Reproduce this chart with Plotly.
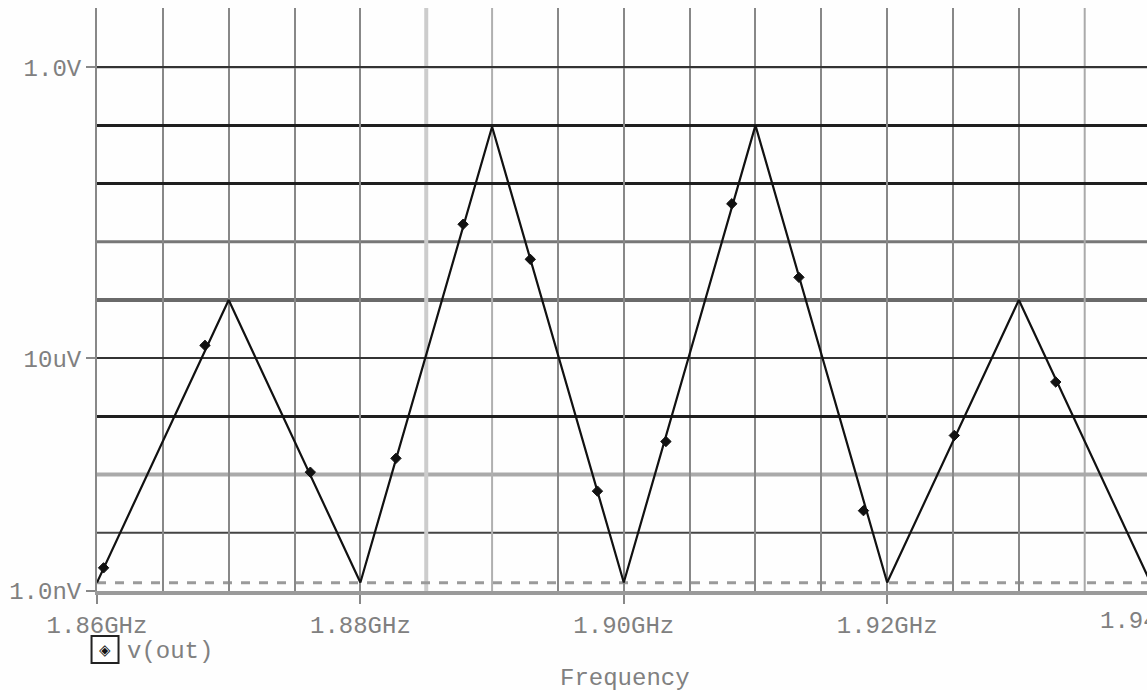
import plotly.graph_objects as go

# ---- data ----
freq_ghz = [1.86, 1.87, 1.88, 1.89, 1.90, 1.91, 1.92, 1.93, 1.94]
v_out = [1.4e-9, 1.0e-4, 1.4e-9, 0.095, 1.4e-9, 0.10, 1.4e-9, 1.0e-4, 1.4e-9]

marker_freq = [1.8605, 1.8682, 1.8762, 1.8827, 1.8878, 1.8929, 1.8980,
               1.9032, 1.9082, 1.9133, 1.9182, 1.9251, 1.9328]
marker_v = [2.5e-9, 1.66e-5, 1.1e-7, 1.9e-7, 2.0e-3, 5.0e-4, 5.2e-8,
            3.7e-7, 4.5e-3, 2.45e-4, 2.4e-8, 4.7e-7, 3.9e-6]

x_tick_vals = [1.86, 1.88, 1.90, 1.92]
x_tick_text = ["1.86GHz", "1.88GHz", "1.90GHz", "1.92GHz"]
x_minor_vals = [1.865, 1.87, 1.875, 1.885, 1.89, 1.895, 1.905, 1.91, 1.915,
                1.925, 1.93, 1.935]
y_tick_vals = [1e-9, 1e-5, 1.0]
y_tick_text = ["1.0nV", "10uV", "1.0V"]
y_minor_vals = [1e-8, 1e-7, 1e-6, 1e-4, 1e-3, 1e-2, 1e-1, 10.0]
clip_level = 1.38e-9
series_name = "v(out)"
x_title = "Frequency"

FONT = "Liberation Mono"
TXT = "#808080"
FS = 24

# gridline shade variations seen in the reference (style)
h_over = {1.0: ("#444444", 2), 1e-3: ("#777777", 3), 1e-4: ("#6a6a6a", 4),
          1e-7: ("#aaaaaa", 4), 1e-8: ("#444444", 2)}
v_over = {1.885: ("#cccccc", 4), 1.89: ("#b0b0b0", 2), 1.935: ("#aaaaaa", 2)}

fig = go.Figure()
fig.add_trace(go.Scatter(x=freq_ghz, y=v_out, mode="lines",
                         line=dict(color="#111111", width=2.2),
                         showlegend=False, hoverinfo="skip"))
fig.add_trace(go.Scatter(x=marker_freq, y=marker_v, mode="markers",
                         marker=dict(symbol="diamond", size=8, color="#111111",
                                     line=dict(color="#111111", width=1)),
                         showlegend=False))

shapes = []
for val, (col, w) in h_over.items():
    shapes.append(dict(type="line", xref="paper", x0=0, x1=1, yref="y", y0=val, y1=val,
                       line=dict(color=col, width=w), layer="below"))
for val, (col, w) in v_over.items():
    shapes.append(dict(type="line", yref="paper", y0=0, y1=1, xref="x", x0=val, x1=val,
                       line=dict(color=col, width=w), layer="below"))
# dashed baseline
shapes.append(dict(type="line", xref="paper", x0=0, x1=1, yref="y",
                   y0=clip_level, y1=clip_level,
                   line=dict(color="#9a9a9a", width=3, dash="dash"), layer="below"))
# legend box
shapes.append(dict(type="rect", xref="paper", yref="paper",
                   x0=-0.0052, x1=0.0205, y0=-0.1235, y1=-0.0772,
                   line=dict(color="#222222", width=2), fillcolor="white"))

annotations = [
    dict(text="◈", xref="paper", yref="paper", x=0.0077, y=-0.1005,
         showarrow=False, font=dict(family="DejaVu Sans", size=15, color="#111111"),
         xanchor="center", yanchor="middle"),
    dict(text=series_name, xref="paper", yref="paper", x=0.027, y=-0.103,
         showarrow=False, font=dict(family=FONT, size=FS, color=TXT),
         xanchor="left", yanchor="middle"),
    dict(text=x_title, xref="paper", yref="paper", x=0.503, y=-0.1500,
         showarrow=False, font=dict(family=FONT, size=FS, color=TXT),
         xanchor="center", yanchor="middle"),
    dict(text="1.94GHz", xref="paper", yref="paper", x=1.0033, y=-0.0520,
         showarrow=False, font=dict(family=FONT, size=FS, color=TXT),
         xanchor="center", yanchor="middle"),
]

fig.update_layout(
    width=1147, height=690,
    margin=dict(l=97, r=0, t=8, b=99),
    paper_bgcolor="#fefefe", plot_bgcolor="#fefefe",
    font=dict(family=FONT, size=FS, color=TXT),
    shapes=shapes, annotations=annotations,
    xaxis=dict(range=[1.86, 1.93973], tickmode="array", tickvals=x_tick_vals,
               ticktext=x_tick_text, ticks="outside", ticklen=9, tickwidth=2,
               tickcolor="#888888", showgrid=True, gridcolor="#888888", gridwidth=2,
               showline=True, linecolor="#9a9a9a", linewidth=4,
               zeroline=False, ticklabelstandoff=0,
               minor=dict(tickmode="array",
                          tickvals=[v for v in x_minor_vals if v not in v_over],
                          showgrid=True, gridcolor="#888888", gridwidth=2, ticks="")),
    yaxis=dict(type="log", range=[-9, 1.017], tickmode="array", tickvals=y_tick_vals,
               ticktext=y_tick_text, ticks="outside", ticklen=9, tickwidth=2,
               tickcolor="#888888", showgrid=True, gridcolor="#333333", gridwidth=2,
               showline=True, linecolor="#888888", linewidth=2, zeroline=False,
               minor=dict(tickmode="array",
                          tickvals=[v for v in y_minor_vals if v not in h_over],
                          showgrid=True, gridcolor="#1e1e1e", gridwidth=3, ticks="")),
)

fig.write_html("out.html", config={"displayModeBar": False},
               post_script="document.body.style.margin='0';"
                           "document.body.style.overflow='hidden';")
